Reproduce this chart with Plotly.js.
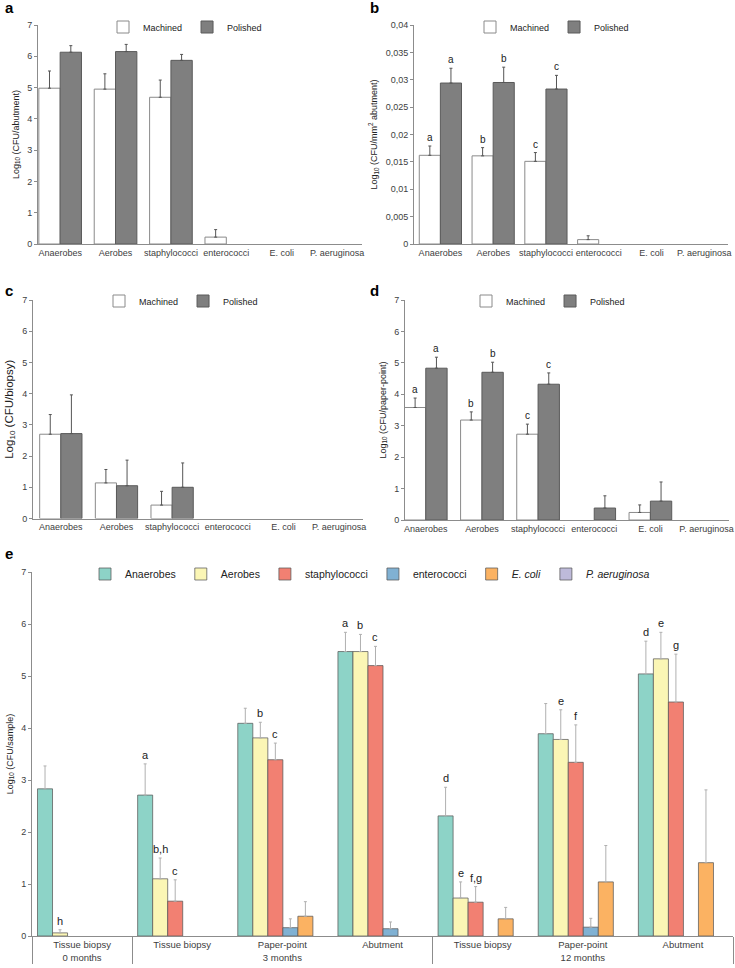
<!DOCTYPE html>
<html>
<head>
<meta charset="utf-8">
<script src="https://cdn.plot.ly/plotly-3.0.1.min.js"></script>
<style>html,body{margin:0;padding:0;background:#fff;}#chart{width:735px;height:968px;}</style>
</head>
<body>
<div id="chart"></div>
<script>
// ---------- DATA ----------
const categories = ['Anaerobes', 'Aerobes', 'staphylococci', 'enterococci', 'E. coli', 'P. aeruginosa'];

// Panel a: Log10 CFU/abutment
const aMachined = [4.98, 4.95, 4.69, 0.22, 0, 0];
const aMachinedErr = [0.55, 0.49, 0.55, 0.24, null, null];
const aPolished = [6.13, 6.15, 5.87, 0, 0, 0];
const aPolishedErr = [0.21, 0.23, 0.19, null, null, null];

// Panel b: Log10 CFU/mm2 abutment
const bMachined = [0.0162, 0.0161, 0.0151, 0.0008, 0, 0];
const bMachinedErr = [0.0017, 0.0015, 0.0016, 0.0007, null, null];
const bPolished = [0.0294, 0.0295, 0.0283, 0, 0, 0];
const bPolishedErr = [0.0027, 0.0028, 0.0025, null, null, null];
const bMachinedLetters = ['a', 'b', 'c', '', '', ''];
const bPolishedLetters = ['a', 'b', 'c', '', '', ''];

// Panel c: Log10 CFU/biopsy
const cMachined = [2.70, 1.14, 0.43, 0, 0, 0];
const cMachinedErr = [0.63, 0.43, 0.44, null, null, null];
const cPolished = [2.72, 1.05, 1.00, 0, 0, 0];
const cPolishedErr = [1.24, 0.82, 0.78, null, null, null];

// Panel d: Log10 CFU/paper-point
const dMachined = [3.58, 3.18, 2.73, 0, 0.24, 0];
const dMachinedErr = [0.30, 0.26, 0.32, null, 0.24, null];
const dPolished = [4.83, 4.70, 4.32, 0.38, 0.60, 0];
const dPolishedErr = [0.35, 0.32, 0.36, 0.39, 0.61, null];
const dMachinedLetters = ['a', 'b', 'c', '', '', ''];
const dPolishedLetters = ['a', 'b', 'c', '', '', ''];

// Panel e: Log10 CFU/sample
const ePeriods = ['0 months', '3 months', '3 months', '3 months', '12 months', '12 months', '12 months'];
const eSamples = ['Tissue biopsy', 'Tissue biopsy', 'Paper-point', 'Abutment', 'Tissue biopsy', 'Paper-point', 'Abutment'];
const eSpecies = ['Anaerobes', 'Aerobes', 'staphylococci', 'enterococci', '<i>E. coli</i>', '<i>P. aeruginosa</i>'];
const eAnaerobes = [2.83, 2.71, 4.09, 5.47, 2.31, 3.89, 5.04];
const eAnaerobesErr = [0.44, 0.60, 0.29, 0.37, 0.55, 0.58, 0.63];
const eAerobes = [0.06, 1.10, 3.81, 5.47, 0.73, 3.78, 5.33];
const eAerobesErr = [0.06, 0.40, 0.30, 0.33, 0.31, 0.57, 0.51];
const eStaph = [0, 0.67, 3.39, 5.20, 0.65, 3.34, 4.50];
const eStaphErr = [null, 0.41, 0.32, 0.37, 0.30, 0.72, 0.92];
const eEntero = [0, 0, 0.16, 0.14, 0, 0.17, 0];
const eEnteroErr = [null, null, 0.17, 0.13, null, 0.17, null];
const eEcoli = [0, 0, 0.38, 0, 0.33, 1.04, 1.41];
const eEcoliErr = [null, null, 0.28, null, 0.22, 0.70, 1.40];
const ePaer = [0, 0, 0, 0, 0, 0, 0];
const ePaerErr = [null, null, null, null, null, null, null];
const eAnaerobesLetters = ['', 'a', '', 'a', 'd', '', 'd'];
const eAerobesLetters = ['h', 'b,h', 'b', 'b', 'e', 'e', 'e'];
const eStaphLetters = ['', 'c', 'c', 'c', 'f,g', 'f', 'g'];

// ---------- STYLE ----------
const FONT = 'Liberation Sans, Arial, sans-serif';
const W = 735, H = 968;
const fx = px => px / W;
const fy = py => 1 - py / H;
const tickCol = '#404040';
const axCol = '#8c8c8c';
// zero counts are shown as no bar at all
const shown = arr => arr.map(v => (v === 0 ? null : v));

const traces = [];
const annotations = [];

function addPair(xa, ya, legendId, mach, machErr, pol, polErr, w, errCol) {
  const common = {type: 'bar', x: categories, xaxis: xa, yaxis: ya, legend: legendId, width: w, hoverinfo: 'skip'};
  traces.push(Object.assign({}, common, {
    name: 'Machined', y: shown(mach), offset: -w,
    marker: {color: '#ffffff', line: {color: '#8a8a8a', width: 1}},
    error_y: {type: 'data', array: machErr, arrayminus: machErr.map(() => 0), symmetric: false, color: errCol, thickness: 1, width: 1.5}
  }));
  traces.push(Object.assign({}, common, {
    name: 'Polished', y: shown(pol), offset: 0,
    marker: {color: '#7f7f7f', line: {color: '#5a5a5a', width: 1}},
    error_y: {type: 'data', array: polErr, arrayminus: polErr.map(() => 0), symmetric: false, color: errCol, thickness: 1, width: 1.5}
  }));
}

addPair('x', 'y', 'legend', aMachined, aMachinedErr, aPolished, aPolishedErr, 0.385, '#555');
addPair('x2', 'y2', 'legend2', bMachined, bMachinedErr, bPolished, bPolishedErr, 0.40, '#555');
addPair('x3', 'y3', 'legend3', cMachined, cMachinedErr, cPolished, cPolishedErr, 0.38, '#555');
addPair('x4', 'y4', 'legend4', dMachined, dMachinedErr, dPolished, dPolishedErr, 0.38, '#555');

function letterAnn(xref, yref, letters, vals, errs, off, size) {
  letters.forEach((t, i) => {
    if (!t) return;
    annotations.push({
      xref: xref, yref: yref, x: i + off, y: vals[i] + (errs[i] || 0),
      text: t, showarrow: false, yanchor: 'bottom', xanchor: 'center', yshift: 1,
      font: {family: FONT, size: size, color: '#222'}
    });
  });
}
letterAnn('x2', 'y2', bMachinedLetters, bMachined, bMachinedErr, -0.20, 10);
letterAnn('x2', 'y2', bPolishedLetters, bPolished, bPolishedErr, 0.20, 10);
letterAnn('x4', 'y4', dMachinedLetters, dMachined, dMachinedErr, -0.19, 10);
letterAnn('x4', 'y4', dPolishedLetters, dPolished, dPolishedErr, 0.19, 10);

// Panel e traces
const eColors = ['#8dd3c7', '#fbf6b5', '#f28072', '#80b1d3', '#fbb262', '#bebada'];
const eVals = [eAnaerobes, eAerobes, eStaph, eEntero, eEcoli, ePaer];
const eErrs = [eAnaerobesErr, eAerobesErr, eStaphErr, eEnteroErr, eEcoliErr, ePaerErr];
const eW = 0.15, eOff0 = -0.445;
eSpecies.forEach((name, k) => {
  traces.push({
    type: 'bar', name: name, x: [ePeriods, eSamples], y: shown(eVals[k]),
    xaxis: 'x5', yaxis: 'y5', legend: 'legend5', width: eW, offset: eOff0 + k * eW, hoverinfo: 'skip',
    marker: {color: eColors[k], line: {color: 'rgba(90,90,90,0.75)', width: 1}},
    error_y: {type: 'data', array: eErrs[k], arrayminus: eErrs[k].map(() => 0), symmetric: false, color: '#b0b0b0', thickness: 1, width: 1.5}
  });
});
const eLetterSets = [eAnaerobesLetters, eAerobesLetters, eStaphLetters];
eLetterSets.forEach((letters, k) => {
  letterAnn('x5', 'y5', letters, eVals[k], eErrs[k], eOff0 + (k + 0.5) * eW, 11);
});

// Panel labels
[['a', 3, 8], ['b', 368, 8], ['c', 3, 290], ['d', 368, 290], ['e', 3, 553]].forEach(p => {
  annotations.push({xref: 'paper', yref: 'paper', x: fx(p[1]), y: fy(p[2]), xanchor: 'left', yanchor: 'middle',
    text: '<b>' + p[0] + '</b>', showarrow: false, font: {family: FONT, size: 15, color: '#000'}});
});

function yAx(dom, range, dtick, title, tsize, tickSize) {
  return {
    domain: dom, range: range, dtick: dtick, tick0: 0, showgrid: false, zeroline: false,
    showline: true, linecolor: axCol, linewidth: 1, ticks: 'outside', ticklen: 3, tickcolor: axCol,
    tickfont: {family: FONT, size: tickSize || 9, color: tickCol},
    title: {text: title, font: {family: FONT, size: tsize, color: '#222'}, standoff: 6},
    fixedrange: true
  };
}
function xAx(dom, range, anchor) {
  return {
    domain: dom, range: range, anchor: anchor, type: 'category', showgrid: false, zeroline: false,
    showline: true, linecolor: axCol, linewidth: 1, ticks: '',
    tickfont: {family: FONT, size: 9, color: tickCol}, tickangle: 0, fixedrange: true
  };
}
function legendAt(cx, cy, size) {
  return {orientation: 'h', x: fx(cx), y: fy(cy), xanchor: 'center', yanchor: 'middle',
    font: {family: FONT, size: size, color: '#222'}, itemwidth: 30, bgcolor: 'rgba(0,0,0,0)', traceorder: 'normal'};
}

const layout = {
  width: W, height: H, margin: {l: 0, r: 0, t: 0, b: 0},
  paper_bgcolor: '#fff', plot_bgcolor: 'rgba(0,0,0,0)',
  separators: ', ', barmode: 'group', showlegend: true,
  font: {family: FONT, color: tickCol},
  xaxis: xAx([fx(38), fx(362)], [-0.4, 5.45], 'y'),
  yaxis: yAx([fy(244), fy(25)], [0, 7], 1, 'Log<sub>10</sub> (CFU/abutment)', 9),
  xaxis2: xAx([fx(414), fx(728)], [-0.5, 5.45], 'y2'),
  yaxis2: Object.assign(yAx([fy(244), fy(25)], [0, 0.04], 0.005, 'Log<sub>10</sub> (CFU/mm<sup>2</sup> abutment)', 9), {anchor: 'x2'}),
  xaxis3: xAx([fx(33), fx(363)], [-0.5, 5.43], 'y3'),
  yaxis3: Object.assign(yAx([fy(518.5), fy(300)], [0, 7], 1, 'Log<sub>10</sub> (CFU/biopsy)', 11.5), {anchor: 'x3'}),
  xaxis4: xAx([fx(405), fx(729)], [-0.37, 5.4], 'y4'),
  yaxis4: Object.assign(yAx([fy(520), fy(300)], [0, 7], 1, 'Log<sub>10</sub> (CFU/paper-point)', 9), {anchor: 'x4'}),
  xaxis5: {
    domain: [fx(32), fx(733)], range: [-0.5, 6.5], anchor: 'y5', type: 'multicategory',
    showgrid: false, zeroline: false, showline: true, linecolor: axCol, linewidth: 1, ticks: '',
    showdividers: true, dividercolor: axCol, dividerwidth: 1,
    tickfont: {family: FONT, size: 9.5, color: tickCol}, fixedrange: true
  },
  yaxis5: Object.assign(yAx([fy(936), fy(572)], [0, 7], 1, 'Log<sub>10</sub> (CFU/sample)', 9), {anchor: 'x5'}),
  legend: legendAt(185, 27, 9),
  legend2: legendAt(552, 27, 9),
  legend3: legendAt(181, 301, 9),
  legend4: legendAt(548, 301, 9),
  legend5: legendAt(370, 574, 10.5),
  annotations: annotations
};

Plotly.newPlot('chart', traces, layout, {staticPlot: true, displayModeBar: false});
</script>
</body>
</html>
